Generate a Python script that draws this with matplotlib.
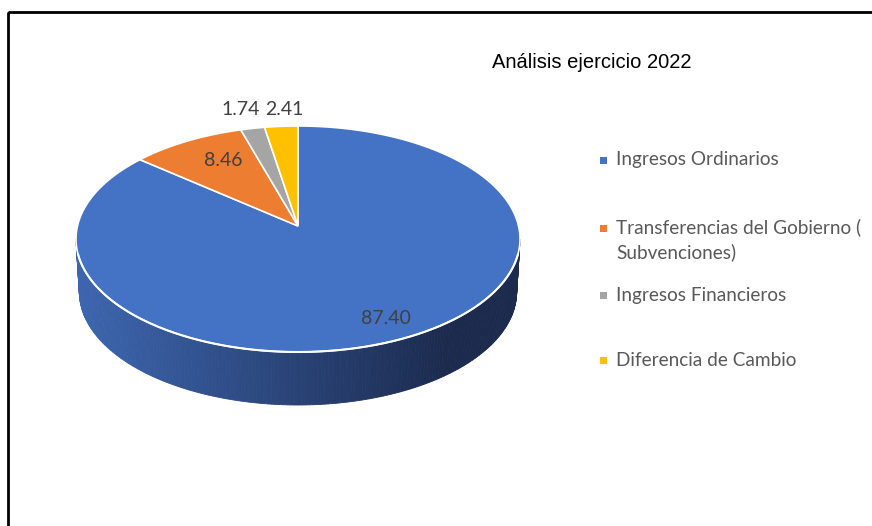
import numpy as np
import matplotlib.pyplot as plt
from matplotlib.patches import Polygon, Rectangle
from matplotlib.colors import to_rgb

# Données
categories = ["Ingresos Ordinarios", "Transferencias del Gobierno (\nSubvenciones)",
              "Ingresos Financieros", "Diferencia de Cambio"]
valeurs = [87.40, 8.46, 1.74, 2.41]
etiquettes = ["87.40", "8.46", "1.74", "2.41"]
couleurs = ["#4472C4", "#ED7D31", "#A5A5A5", "#FFC000"]
titre = "Análisis ejercicio 2022"

# Géométrie (pixels)
cx, cy = 298, 239
rx, ry = 222, 113
apex_y = 226
prof = 53
r_lab = [0.80, 0.77, 1.16, 1.16]
dx_lab = [19, 11, -5, 6]
dy_lab = [-4, -3, -1, 1]

fig = plt.figure(figsize=(8.72, 5.26), dpi=100)
ax = fig.add_axes([0, 0, 1, 1])
ax.set_xlim(0, 872)
ax.set_ylim(526, 0)
ax.axis('off')

def pt(t, dy=0, k=1.0):
    a = np.radians(t)
    return cx + k * rx * np.cos(a), cy - ry * np.sin(a) + dy

# Paroi latérale avec dégradé
c_g = np.array(to_rgb("#3D66B0"))
c_d = np.array(to_rgb("#1B2A4D"))
ts = np.linspace(180, 360, 181)
for i in range(len(ts) - 1):
    t0, t1 = ts[i], ts[i + 1]
    x0, y0 = pt(t0)
    x1, y1 = pt(t1)
    xb0, yb0 = pt(t0, prof, 0.985)
    xb1, yb1 = pt(t1, prof, 0.985)
    f = ((x0 + x1) / 2 - (cx - rx)) / (2 * rx)
    f = min(1, f / 0.85)
    col = c_g * (1 - f) + c_d * f
    ax.add_patch(Polygon([(x0, y0), (x1, y1), (xb1, yb1), (xb0, yb0)],
                         closed=True, facecolor=col, edgecolor=col, lw=0.6))

# Dessus du camembert
total = sum(valeurs)
debut = 90.0
milieux = []
for v, c in zip(valeurs, couleurs):
    fin = debut - 360 * v / total
    t = np.linspace(fin, debut, max(3, int(abs(debut - fin)) * 2))
    pts = [(cx, apex_y)] + [pt(a) for a in t]
    ax.add_patch(Polygon(pts, closed=True, facecolor=c, edgecolor="white", lw=1.2, zorder=3))
    milieux.append((debut + fin) / 2)
    debut = fin

# Liseré blanc avant
tf = np.linspace(188, 352, 200)
xs, ys = zip(*[pt(a) for a in tf])
ax.plot(xs, ys, color="white", lw=1.5, zorder=4)

# Étiquettes
for lab, m, r, ddx, ddy in zip(etiquettes, milieux, r_lab, dx_lab, dy_lab):
    x, y = pt(m, k=r)
    y = cy - r * ry * np.sin(np.radians(m))
    ax.text(x + ddx, y + ddy, lab, ha="center", va="center", fontsize=14,
            family="Lato", color="#404040", zorder=5)

# Titre
ax.text(592, 62, titre, ha="center", va="center", fontsize=14.5,
        family="Liberation Sans", color="black")

# Légende
y_leg = [160, 228, 295, 360]
for c, lab, y in zip(couleurs, categories, y_leg):
    ax.add_patch(Rectangle((600, y - 3.5), 7, 7, facecolor=c, edgecolor="none"))
    if "\n" in lab:
        ax.text(616, y - 10, lab, ha="left", va="top", fontsize=13.7,
                family="Lato", color="#595959", linespacing=1.5)
    else:
        ax.text(616, y, lab, ha="left", va="center", fontsize=13.7,
                family="Lato", color="#595959")

# Cadre
ax.add_patch(Rectangle((8, 12), 900, 600, facecolor="none", edgecolor="black",
                       lw=2, clip_on=False))

fig.savefig("out.png", dpi=100)
